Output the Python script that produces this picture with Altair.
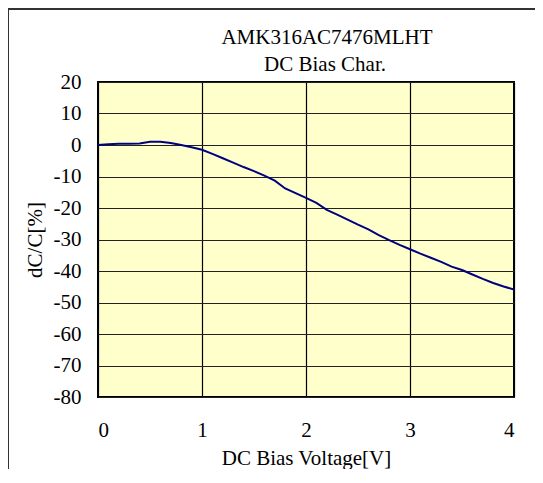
import altair as alt
import pandas as pd

voltage = [0.0, 0.1, 0.2, 0.3, 0.4, 0.5, 0.6, 0.7, 0.8, 0.9,
           1.0, 1.1, 1.2, 1.3, 1.4, 1.5, 1.6, 1.7, 1.8, 1.9,
           2.0, 2.1, 2.2, 2.3, 2.4, 2.5, 2.6, 2.7, 2.8, 2.9,
           3.0, 3.1, 3.2, 3.3, 3.4, 3.5, 3.6, 3.7, 3.8, 3.9, 4.0]
dcc = [0.0, 0.2, 0.4, 0.4, 0.5, 1.0, 1.0, 0.6, 0.0, -0.7,
       -1.5, -2.8, -4.2, -5.6, -7.0, -8.3, -9.7, -11.3, -13.8, -15.3,
       -16.8, -18.4, -20.6, -22.1, -23.7, -25.3, -26.8, -28.6, -30.2, -31.7,
       -33.1, -34.5, -35.8, -37.1, -38.6, -39.7, -41.1, -42.5, -43.8, -44.9, -45.9]

x_ticks = [0, 1, 2, 3, 4]
y_ticks = [20, 10, 0, -10, -20, -30, -40, -50, -60, -70, -80]
title_lines = ["AMK316AC7476MLHT", "DC Bias Char."]

df = pd.DataFrame({"V": voltage, "dC": dcc})
FONT = "Liberation Serif"

line = alt.Chart(df).mark_line(color="#000080", strokeWidth=2, clip=True).encode(
    x=alt.X("V:Q", scale=alt.Scale(domain=[0, 4], nice=False),
            axis=alt.Axis(values=x_ticks, title="DC Bias Voltage[V]",
                          labelExpr="'' + datum.value",
                          grid=True, gridColor="#000000", gridWidth=1.2,
                          tickSize=0, domain=False, labelPadding=22,
                          titleY=61, titleBaseline="middle")),
    y=alt.Y("dC:Q", scale=alt.Scale(domain=[-80, 20], nice=False),
            axis=alt.Axis(values=y_ticks, title="dC/C[%]",
                          labelExpr="'' + datum.value",
                          grid=True, gridColor="#222222", gridWidth=1.2,
                          tickSize=0, domain=False, labelPadding=17,
                          titleX=-63, titleY=157.5, titleBaseline="middle",
                          titleAlign="center")),
)

title1 = alt.Chart(pd.DataFrame({"t": [title_lines[0]]})).mark_text(
    font=FONT, fontSize=21, color="#000000", align="center", baseline="middle"
).encode(text="t:N", x=alt.value(229), y=alt.value(-44))
title2 = alt.Chart(pd.DataFrame({"t": [title_lines[1]]})).mark_text(
    font=FONT, fontSize=21, color="#000000", align="center", baseline="middle"
).encode(text="t:N", x=alt.value(227), y=alt.value(-17))

frame_top = alt.Chart(df).mark_rule(color="#333333", strokeWidth=1.5).encode(
    x=alt.value(-90), x2=alt.value(437), y=alt.value(-73))
frame_left = alt.Chart(df).mark_rule(color="#333333", strokeWidth=1.5).encode(
    x=alt.value(-90), y=alt.value(-73), y2=alt.value(395))

chart = alt.layer(line, title1, title2, frame_top, frame_left).properties(
    width=416, height=315,
    autosize=alt.AutoSizeParams(type="none"),
    padding={"left": 90, "top": 74, "right": 21, "bottom": 72},
).configure_view(
    fill="#FFFFCC", stroke="#000000", strokeWidth=2
).configure_axis(
    labelFont=FONT, labelFontSize=21, labelColor="#000000",
    titleFont=FONT, titleFontSize=21, titleFontWeight="normal", titleColor="#000000",
)

chart.save("out.html", embed_options={"renderer": "svg", "actions": False})
